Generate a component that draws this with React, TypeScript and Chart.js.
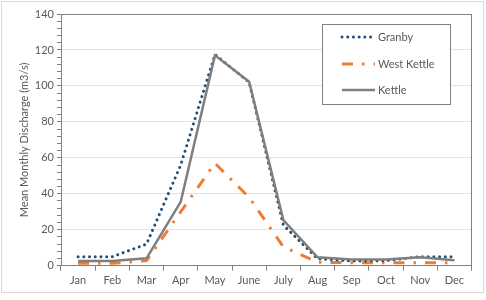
import React, { useEffect, useRef } from 'react';
import { Chart, registerables } from 'chart.js';

Chart.register(...registerables);

const months = ['Jan', 'Feb', 'Mar', 'Apr', 'May', 'June', 'July', 'Aug', 'Sep', 'Oct', 'Nov', 'Dec'];
const granby = [5.0, 5.0, 12, 56, 117.5, 102, 22.6, 3.9, 2.6, 2.8, 5.0, 5.0];
const westKettle = [1.3, 1.3, 2.8, 30, 57, 38, 10.5, 1.9, 1.7, 1.7, 1.7, 1.7];
const kettle = [2.6, 2.6, 4.1, 35.5, 117, 102.3, 25.4, 4.7, 3.5, 3.5, 4.7, 3.0];
const seriesNames = ['Granby', 'West Kettle', 'Kettle'];
const yMax = 140;
const yMajorStep = 20;
const yMinorStep = 4;

const FONT = 'Lato, "Noto Sans", sans-serif';
const FS = 11;
const TEXT = '#595959';
const AXIS = '#808080';

const framePlugin = {
  id: 'frame',
  beforeDraw(chart: any) {
    const { ctx, width, height } = chart;
    ctx.save();
    ctx.fillStyle = '#ffffff';
    ctx.fillRect(0, 0, width, height);
    ctx.strokeStyle = '#d9d9d9';
    ctx.lineWidth = 1;
    ctx.strokeRect(1.5, 1.5, 482, 291);
    ctx.restore();
  },
  afterDraw(chart: any) {
    const { ctx, chartArea } = chart;
    const { left, right, top, bottom } = chartArea;
    ctx.save();
    ctx.strokeStyle = AXIS;
    ctx.lineWidth = 1;
    ctx.beginPath();
    ctx.moveTo(left, top + 0.5);
    ctx.lineTo(right, top + 0.5);
    ctx.moveTo(Math.round(right) - 0.5, top);
    ctx.lineTo(Math.round(right) - 0.5, bottom);
    ctx.stroke();

    // legend
    const lx = 322.5, ly = 24.5, lw = 128, lh = 80;
    ctx.fillStyle = '#ffffff';
    ctx.fillRect(lx, ly, lw, lh);
    ctx.strokeStyle = AXIS;
    ctx.strokeRect(lx, ly, lw, lh);
    const rows = [37, 64, 90];
    chart.data.datasets.forEach((ds: any, i: number) => {
      const y = rows[i];
      ctx.save();
      ctx.strokeStyle = ds.borderColor;
      ctx.lineWidth = ds.borderWidth;
      ctx.lineCap = ds.borderCapStyle || 'butt';
      ctx.setLineDash(ds.borderDash || []);
      ctx.beginPath();
      ctx.moveTo(342, y);
      ctx.lineTo(375, y);
      ctx.stroke();
      ctx.restore();
      ctx.fillStyle = TEXT;
      ctx.font = `${FS}px ${FONT}`;
      ctx.textBaseline = 'middle';
      ctx.textAlign = 'left';
      ctx.fillText(ds.label, 378, y);
    });
    ctx.restore();
  },
};

export default function App() {
  const ref = useRef<HTMLCanvasElement>(null);
  useEffect(() => {
    document.body.style.margin = '0';
    const chart = new Chart(ref.current!, {
      type: 'line',
      data: {
        labels: months,
        datasets: [
          {
            label: seriesNames[0],
            data: granby,
            borderColor: '#1F4E79',
            borderWidth: 3,
            borderDash: [0.01, 5.7],
            borderCapStyle: 'round',
            pointRadius: 0,
            tension: 0,
            fill: false,
            order: 1,
          },
          {
            label: seriesNames[1],
            data: westKettle,
            borderColor: '#ED7D31',
            borderWidth: 3,
            borderDash: [11, 9, 2.5, 9],
            borderCapStyle: 'butt',
            pointRadius: 0,
            tension: 0,
            fill: false,
            order: 2,
          },
          {
            label: seriesNames[2],
            data: kettle,
            borderColor: '#7F7F7F',
            borderWidth: 2.5,
            borderCapStyle: 'butt',
            pointRadius: 0,
            tension: 0,
            fill: false,
            order: 0,
          },
        ],
      },
      options: {
        responsive: false,
        animation: false,
        layout: { padding: { left: 0, top: 14, right: 14.5, bottom: 0 } },
        plugins: {
          legend: { display: false },
          tooltip: { enabled: false },
          title: { display: false },
        },
        scales: {
          x: {
            type: 'category',
            offset: true,
            afterFit: (s: any) => { s.height = 34.3; },
            grid: {
              offset: true,
              drawOnChartArea: false,
              drawTicks: true,
              tickLength: 5,
              tickColor: AXIS,
            },
            border: { display: true, color: AXIS, width: 1 },
            ticks: {
              color: TEXT,
              font: { family: FONT, size: FS },
              padding: 3,
              maxRotation: 0,
              autoSkip: false,
            },
          },
          y: {
            type: 'linear',
            min: 0,
            max: yMax,
            afterFit: (s: any) => { s.width = 61; },
            grid: {
              color: (c: any) => {
                const v = c.tick ? c.tick.value : 0;
                if (v === 0 || v === yMax) return 'rgba(0,0,0,0)';
                return v % yMajorStep === 0 ? '#e3e3e3' : 'rgba(0,0,0,0)';
              },
              lineWidth: 1,
              drawTicks: true,
              tickLength: 4,
              tickColor: AXIS,
            },
            border: { display: true, color: AXIS, width: 1 },
            ticks: {
              stepSize: yMinorStep,
              autoSkip: false,
              color: TEXT,
              font: { family: FONT, size: FS },
              padding: 3,
              callback: (v: any) => (Number(v) % yMajorStep === 0 ? String(v) : ''),
            },
            title: {
              display: true,
              text: 'Mean Monthly Discharge (m3/s)',
              color: TEXT,
              font: { family: FONT, size: FS },
              padding: { top: 18, bottom: 0 },
            },
          },
        },
      },
      plugins: [framePlugin],
    } as any);
    return () => chart.destroy();
  }, []);
  return <canvas ref={ref} width={486} height={300} style={{ display: 'block' }} />;
}
